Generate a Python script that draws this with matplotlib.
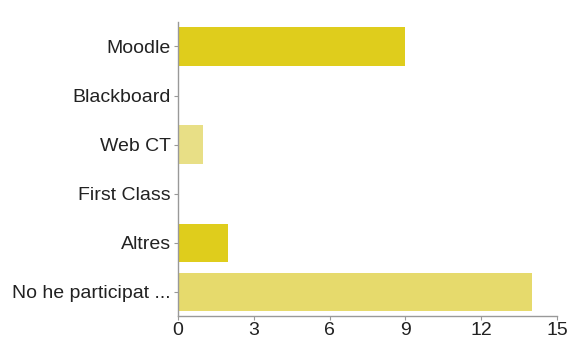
import matplotlib
matplotlib.use("Agg")
import matplotlib.pyplot as plt

# Survey answers (one bar per platform)
categories = ["Moodle", "Blackboard", "Web CT", "First Class", "Altres", "No he participat ..."]
counts = [9, 0, 1, 0, 2, 14]
bar_colors = ["#dfcd1c", "#dfcd1c", "#e8df86", "#e8df86", "#dfcd1c", "#e6da6c"]
x_ticks = [0, 3, 6, 9, 12, 15]

plt.rcParams["font.family"] = ["Liberation Sans", "DejaVu Sans"]

fig = plt.figure(figsize=(5.72, 3.42), dpi=100)
ax = fig.add_axes([0.311, 0.075, 0.663, 0.861])

ypos = list(range(len(categories)))
ax.barh(ypos, counts, height=0.78, color=bar_colors)

ax.set_ylim(len(categories) - 0.5, -0.5)
ax.set_xlim(0, 15)
ax.set_yticks(ypos)
ax.set_yticklabels(categories, fontsize=14, color="#222222")
ax.set_xticks(x_ticks)
ax.set_xticklabels([str(t) for t in x_ticks], fontsize=14, color="#222222")

for side in ["top", "right"]:
    ax.spines[side].set_visible(False)
for side in ["left", "bottom"]:
    ax.spines[side].set_color("#999999")
    ax.spines[side].set_linewidth(1.0)
ax.tick_params(axis="both", colors="#999999", length=3, width=0.8, labelcolor="#222222", pad=2)
ax.tick_params(axis="x", pad=1)

fig.savefig("out.png", dpi=100)
